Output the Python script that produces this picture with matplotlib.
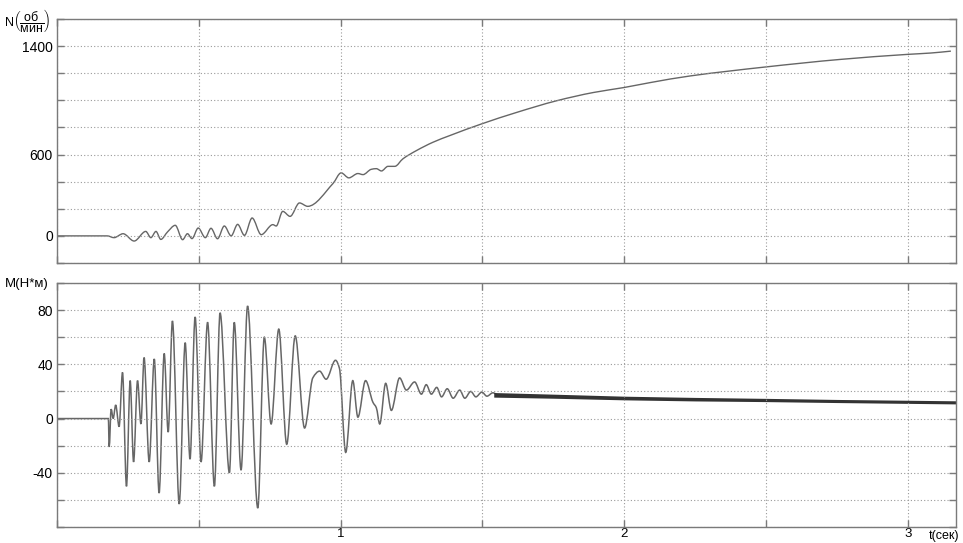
import matplotlib
matplotlib.use("Agg")
import matplotlib.pyplot as plt
from matplotlib.path import Path
from matplotlib.patches import PathPatch

# speed N (об/мин)
n_t = [0.0, 0.177, 0.201, 0.233, 0.272, 0.313, 0.331, 0.349, 0.366, 0.390,
       0.417, 0.443, 0.460, 0.476, 0.498, 0.523, 0.543, 0.566, 0.590, 0.614,
       0.637, 0.661, 0.688, 0.720, 0.761, 0.773, 0.796, 0.822, 0.855, 0.884,
       0.973, 1.002, 1.029, 1.061, 1.079, 1.108, 1.126, 1.144, 1.167, 1.191,
       1.220, 1.268, 1.326, 1.385, 1.497, 1.621, 1.762, 1.892, 1.998, 2.092,
       2.233, 2.498, 2.763, 2.999, 3.081, 3.152]
n_val = [0, 0, -13, 16, -38, 33, -13, 33, -26, 30,
         78, -28, 16, -20, 58, -13, 56, -21, 73, 0,
         85, 4, 132, 9, 83, 73, 181, 144, 243, 218,
         386, 465, 428, 460, 452, 491, 496, 479, 513, 513,
         569, 630, 691, 740, 826, 911, 997, 1058, 1094, 1131,
         1180, 1246, 1302, 1339, 1349, 1363]

# torque M (Н*м), peaks and troughs of the lower trace
m_t = [0.0, 0.181, 0.184, 0.191, 0.198, 0.207, 0.219, 0.231, 0.245, 0.258,
       0.270, 0.284, 0.296, 0.307, 0.325, 0.343, 0.360, 0.378, 0.392, 0.407,
       0.431, 0.452, 0.469, 0.487, 0.508, 0.531, 0.555, 0.575, 0.608, 0.625,
       0.649, 0.672, 0.708, 0.731, 0.755, 0.782, 0.810, 0.840, 0.873, 0.902,
       0.926, 0.949, 0.982, 0.996, 1.018, 1.043, 1.061, 1.088, 1.114, 1.126,
       1.138, 1.159, 1.179, 1.208, 1.232, 1.261, 1.285, 1.302, 1.320, 1.339,
       1.356, 1.376, 1.397, 1.420, 1.438, 1.459, 1.477, 1.498, 1.516, 1.537,
       1.555]
m_val = [0, 0, -21, 7, 0, 10, -6, 34, -50, 28,
         -32, 28, -4, 45, -32, 44, -55, 48, -10, 72,
         -63, 56, -30, 75, -32, 71, -50, 78, -40, 71,
         -38, 83, -66, 60, -4, 66, -19, 61, -7, 30,
         35, 29, 43, 37, -25, 28, 1, 28, 12, 8,
         -4, 26, 6, 30, 21, 27, 18, 25, 18, 23,
         16, 22, 15, 21, 15, 20, 16, 19.5, 16.5, 19,
         17]

# dense high-frequency tail of M: lower and upper edge of the band
band_t = [1.54, 1.75, 2.0, 2.25, 2.5, 2.75, 3.0, 3.17]
band_lo = [15.8, 15.0, 13.8, 13.0, 12.5, 11.8, 11.2, 10.8]
band_hi = [19.2, 18.0, 16.5, 15.6, 14.9, 14.1, 13.5, 13.1]

x_ticks = [0.0, 0.5, 1.0, 1.5, 2.0, 2.5, 3.0]
x_labels = ["", "", "1", "", "2", "", "3"]
n_ticks = [-200, 0, 200, 400, 600, 800, 1000, 1200, 1400, 1600]
n_labels = ["", "0", "", "", "600", "", "", "", "1400", ""]
m_ticks = [-80, -60, -40, -20, 0, 20, 40, 60, 80, 100]
m_labels = ["", "", "-40", "", "0", "", "40", "", "80", ""]

plt.rcParams['font.family'] = ['Liberation Sans', 'DejaVu Sans']
plt.rcParams['mathtext.fontset'] = 'custom'
plt.rcParams['mathtext.rm'] = 'Liberation Sans'
plt.rcParams['mathtext.sf'] = 'Liberation Sans'

frame = '#7a7a7a'
line_c = '#666666'


def slopes(t, v):
    # monotone (pchip-like) tangents: flat at peaks, smooth on slopes
    n = len(t)
    sec = [(v[i + 1] - v[i]) / (t[i + 1] - t[i]) for i in range(n - 1)]
    m = [0.0] * n
    m[0] = sec[0]
    m[-1] = sec[-1]
    for i in range(1, n - 1):
        a, b = sec[i - 1], sec[i]
        if a * b <= 0:
            m[i] = 0.0
        else:
            m[i] = 2 * a * b / (a + b)
    return m


def smooth_trace(ax, t, v, color, lw):
    # read points joined by cubic Bezier segments
    m = slopes(t, v)
    verts = [(t[0], v[0])]
    codes = [Path.MOVETO]
    for i in range(len(t) - 1):
        h = (t[i + 1] - t[i]) / 3
        verts += [(t[i] + h, v[i] + m[i] * h),
                  (t[i + 1] - h, v[i + 1] - m[i + 1] * h),
                  (t[i + 1], v[i + 1])]
        codes += [Path.CURVE4] * 3
    patch = PathPatch(Path(verts, codes), facecolor='none', edgecolor=color,
                      lw=lw, transform=ax.transData)
    ax.add_patch(patch)


fig = plt.figure(figsize=(9.63, 5.43), dpi=100)
ax1 = fig.add_axes([57 / 963, 1 - 263 / 543, 899 / 963, 244 / 543])
ax2 = fig.add_axes([57 / 963, 1 - 527 / 543, 899 / 963, 244 / 543])


def style(ax):
    ax.set_xlim(0, 3.17)
    ax.set_xticks(x_ticks)
    ax.grid(True, linestyle=(0, (1, 2)), color='#9a9a9a', linewidth=0.8)
    ax.tick_params(direction='in', length=5, width=1, color=frame,
                   top=True, right=True, labelsize=10, pad=3)
    ax.tick_params(axis='x', pad=1, labelsize=9.5)
    for s in ax.spines.values():
        s.set_color(frame)
        s.set_linewidth(1)


style(ax1)
smooth_trace(ax1, n_t, n_val, line_c, 1)
ax1.set_ylim(-200, 1600)
ax1.set_yticks(n_ticks)
ax1.set_yticklabels(n_labels)
ax1.set_xticklabels([])

style(ax2)
smooth_trace(ax2, m_t, m_val, line_c, 1.1)
ax2.fill_between(band_t, band_lo, band_hi, color='#333333', lw=0)
ax2.set_ylim(-80, 100)
ax2.set_yticks(m_ticks)
ax2.set_yticklabels(m_labels)
ax2.set_xticklabels(x_labels)

fig.text(4 / 963, 1 - 20 / 543,
         r'N$\left(\dfrac{\mathsf{об}}{\mathsf{мин}}\right)$',
         fontsize=9, va='center', ha='left')
fig.text(5 / 963, 1 - 284 / 543, 'M(Н*м)', fontsize=9.5, va='center', ha='left')
fig.text(929 / 963, 1 - 536 / 543, 't(сек)', fontsize=9, va='center', ha='left')

fig.savefig('out.png', dpi=100)
